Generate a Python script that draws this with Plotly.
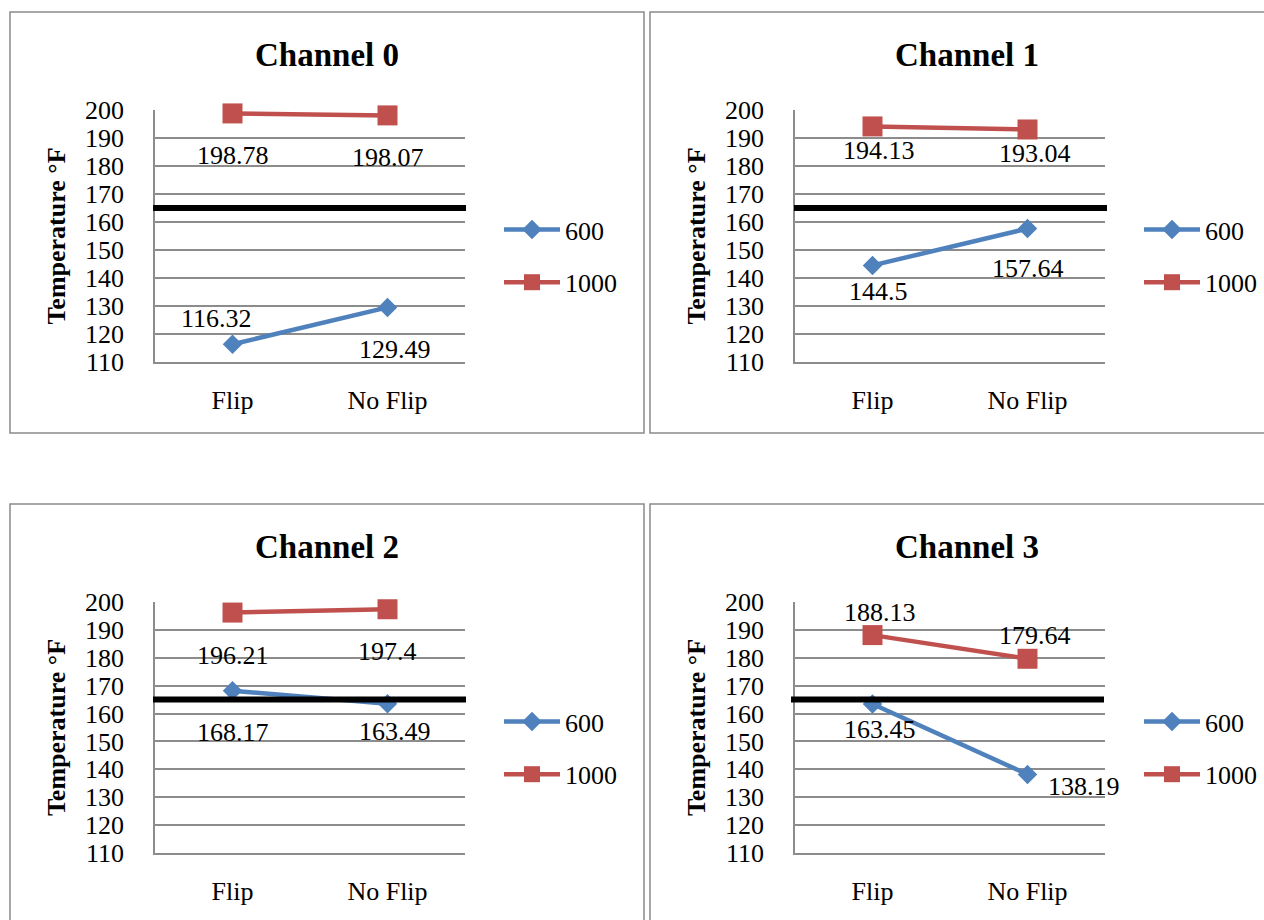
import plotly.graph_objects as go

# ---------------- data ----------------
categories = ["Flip", "No Flip"]
series_names = ["600", "1000"]
channel_titles = ["Channel 0", "Channel 1", "Channel 2", "Channel 3"]

ch0_600 = [116.32, 129.49]
ch0_1000 = [198.78, 198.07]
ch1_600 = [144.5, 157.64]
ch1_1000 = [194.13, 193.04]
ch2_600 = [168.17, 163.49]
ch2_1000 = [196.21, 197.4]
ch3_600 = [163.45, 138.19]
ch3_1000 = [188.13, 179.64]

threshold = 165
y_ticks = [110, 120, 130, 140, 150, 160, 170, 180, 190, 200]
y_title = "Temperature °F"

# ---------------- layout config (pixels) ----------------
W, H = 1264, 920
FONT = "Liberation Serif"
BLUE = "#4F81BD"
RED = "#C0504D"
GRID = "#8c8c8c"


def px(x):
    return x / W


def py(y):
    return 1 - y / H


panels = [
    dict(data=(ch0_600, ch0_1000), xd=(155, 465), yd=(110, 362), title=(327, 55),
         legy=256, legx=499, box=(10, 12, 644, 433), thr=(153, 466),
         off600=[(-16, -26), (7, 42)], off1000=[(0, 42), (0, 42)]),
    dict(data=(ch1_600, ch1_1000), xd=(795, 1105), yd=(110, 362), title=(967, 55),
         legy=256, legx=1139, box=(650, 12, 1280, 433), thr=(794, 1107),
         off600=[(6, 26), (0, 40)], off1000=[(6, 24), (7, 24)]),
    dict(data=(ch2_600, ch2_1000), xd=(155, 465), yd=(602, 853), title=(327, 547),
         legy=748, legx=499, box=(10, 504, 644, 930), thr=(153, 466),
         off600=[(0, 42), (7, 28)], off1000=[(0, 43), (0, 42)]),
    dict(data=(ch3_600, ch3_1000), xd=(795, 1105), yd=(602, 853), title=(967, 547),
         legy=748, legx=1139, box=(650, 504, 1280, 930), thr=(791, 1104),
         off600=[(7, 26), (56, 12)], off1000=[(7, -23), (7, -23)]),
]

fig = go.Figure()
annotations = []
shapes = []
layout_extra = {}

for i, p in enumerate(panels):
    n = i + 1
    xa = "x" if n == 1 else f"x{n}"
    ya = "y" if n == 1 else f"y{n}"
    leg = "legend" if n == 1 else f"legend{n}"
    s600, s1000 = p["data"]

    fig.add_trace(go.Scatter(
        x=categories, y=s600, name=series_names[0], mode="lines+markers",
        line=dict(color=BLUE, width=4.5), marker=dict(symbol="diamond", size=15, color=BLUE),
        xaxis=xa, yaxis=ya, legend=leg, legendgroup=f"g600_{n}", cliponaxis=False,
        hoverinfo="x+y"))
    fig.add_trace(go.Scatter(
        x=categories, y=s1000, name=series_names[1], mode="lines+markers",
        line=dict(color=RED, width=4.5), marker=dict(symbol="square", size=20, color=RED),
        xaxis=xa, yaxis=ya, legend=leg, legendgroup=f"g1000_{n}", cliponaxis=False,
        hoverinfo="x+y"))

    # data labels
    for vals, offs in ((s600, p["off600"]), (s1000, p["off1000"])):
        for c, v, (dx, dy) in zip(categories, vals, offs):
            annotations.append(dict(
                x=c, y=v, xref=xa, yref=ya, text=f"{v:g}", showarrow=False,
                xshift=dx, yshift=-dy, font=dict(family=FONT, size=26, color="black")))

    # chart title
    annotations.append(dict(
        x=px(p["title"][0]), y=py(p["title"][1]), xref="paper", yref="paper",
        text=f"<b>{channel_titles[i]}</b>", showarrow=False,
        xanchor="center", yanchor="middle",
        font=dict(family=FONT, size=33, color="black")))

    # threshold line
    shapes.append(dict(type="line", xref="paper", yref=ya,
                       x0=px(p["thr"][0]), x1=px(p["thr"][1]), y0=threshold, y1=threshold,
                       line=dict(color="black", width=6), layer="above"))

    # chart border
    bx0, by0, bx1, by1 = p["box"]
    shapes.append(dict(type="rect", xref="paper", yref="paper",
                       x0=px(bx0), x1=px(bx1), y0=py(by1), y1=py(by0),
                       line=dict(color="#8a8a8a", width=1.5), layer="below"))

    xkey = "xaxis" if n == 1 else f"xaxis{n}"
    ykey = "yaxis" if n == 1 else f"yaxis{n}"
    layout_extra[xkey] = dict(
        domain=[px(p["xd"][0]), px(p["xd"][1])], anchor=ya, type="category",
        range=[-0.5, 1.5], showgrid=False, zeroline=False, showline=True,
        linecolor=GRID, linewidth=1.5, ticks="", ticklabelstandoff=14, automargin=False,
        tickfont=dict(family=FONT, size=26, color="black"), fixedrange=True)
    layout_extra[ykey] = dict(
        domain=[py(p["yd"][1]), py(p["yd"][0])], anchor=xa,
        range=[110, 200], tickvals=y_ticks, showgrid=True, gridcolor=GRID, gridwidth=1.5,
        zeroline=False, showline=True, linecolor=GRID, linewidth=1.5, ticks="",
        ticklabelstandoff=24, automargin=False,
        tickfont=dict(family=FONT, size=26, color="black"),
        title=dict(text=f"<b>{y_title}</b>", standoff=12,
                   font=dict(family=FONT, size=26, color="black")),
        fixedrange=True)
    layout_extra[leg] = dict(
        x=px(p["legx"]), y=py(p["legy"]), xanchor="left", yanchor="middle",
        xref="paper", yref="paper", bgcolor="rgba(0,0,0,0)", borderwidth=0,
        font=dict(family=FONT, size=26, color="black"), tracegroupgap=16,
        traceorder="grouped", itemwidth=56)

fig.update_layout(
    template="none",
    width=W, height=H, margin=dict(l=0, r=0, t=0, b=0, pad=0, autoexpand=False),
    paper_bgcolor="white", plot_bgcolor="white",
    annotations=annotations, shapes=shapes, showlegend=True,
    **layout_extra)

fig.write_html("out.html")
